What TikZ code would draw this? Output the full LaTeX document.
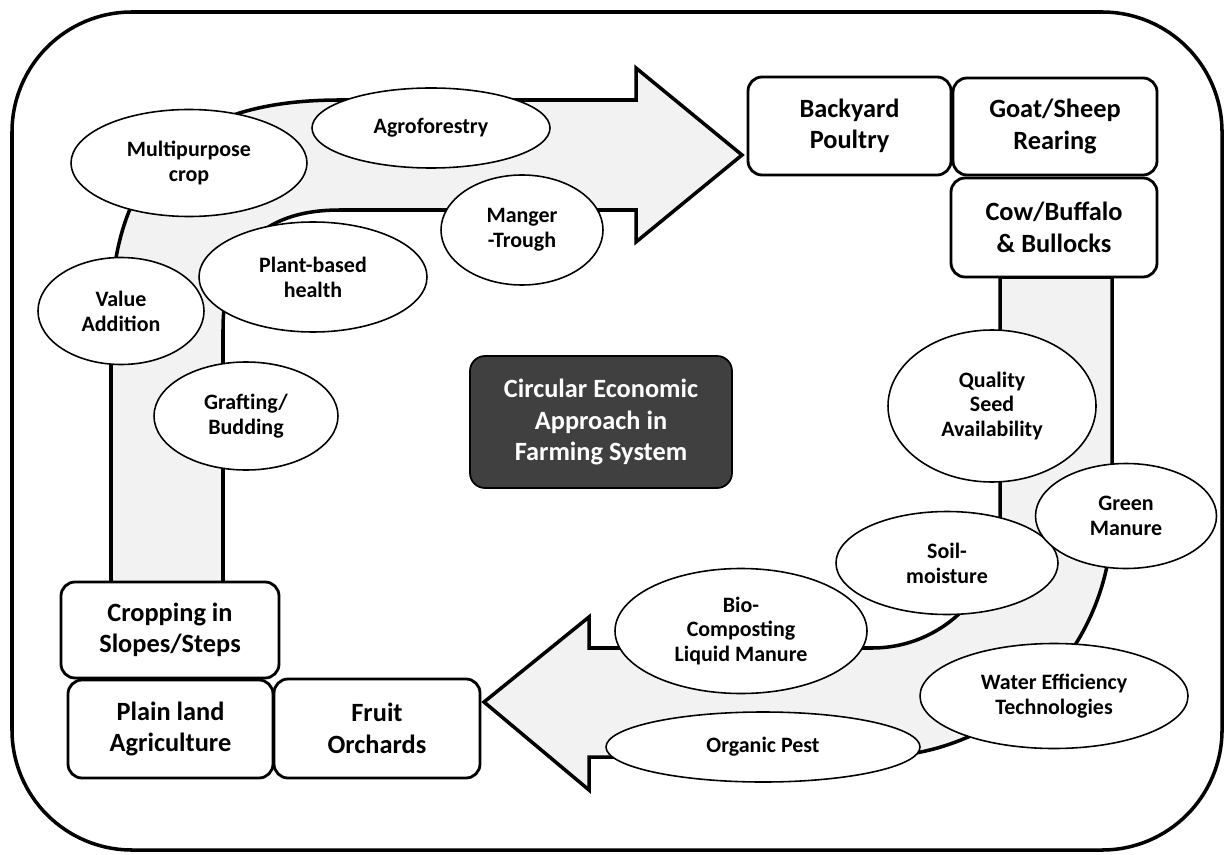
\documentclass[tikz,border=0pt]{standalone}
\usepackage{fontspec}
\setmainfont{Carlito}
\usetikzlibrary{shapes.geometric}

\begin{document}
\begin{tikzpicture}[
    stage/.style={
        rectangle, rounded corners=0.28cm, draw, line width=1.6pt,
        fill=white, inner sep=0pt, align=center,
        font=\fontsize{15}{18}\selectfont\bfseries
    },
    practice/.style={
        ellipse, draw, line width=0.9pt, fill=white, inner sep=0pt,
        align=center, font=\fontsize{12.5}{14.2}\selectfont\bfseries
    },
    hub/.style={
        rectangle, rounded corners=0.3cm, draw, line width=1pt,
        fill=black!75, text=white, inner sep=0pt, align=center,
        font=\fontsize{15}{18}\selectfont\bfseries
    },
    flow/.style={draw, line width=2pt, fill=black!5, line join=miter},
]
\useasboundingbox (0,0) rectangle (24.52,17.08);

% Outer frame
\draw[line width=2pt, rounded corners=2.4cm] (0.24,0.08) rectangle (24.44,16.84);

% Upper flow (left column up, then right to the livestock)
\draw[flow] (2.22,5.42) -- (2.22,10.68)
    .. controls (2.22,13.78) and (3.80,15.08) .. (6.80,15.08)
    -- (12.72,15.08) -- (12.72,15.72) -- (14.84,13.98) -- (12.72,12.24)
    -- (12.72,12.88) -- (6.80,12.88)
    .. controls (5.24,12.88) and (4.46,12.08) .. (4.46,10.48)
    -- (4.46,5.42) -- cycle;

% Lower flow (right column down, then left to the orchards)
\draw[flow] (20.00,11.54) -- (20.00,6.68)
    arc[start angle=0, end angle=-90, radius=2.56]
    -- (11.78,4.12) -- (11.78,4.74) -- (9.68,3.04) -- (11.78,1.28)
    -- (11.78,1.94) -- (17.44,1.94)
    arc[start angle=-90, end angle=0, radius=4.8]
    -- (22.24,11.54) -- cycle;

% Farming units
\node[stage, minimum width=4.06cm, minimum height=1.96cm] (poultry) at (16.99,14.56) {Backyard\\Poultry};
\node[stage, minimum width=4.08cm, minimum height=1.94cm] (goat)    at (21.10,14.55) {Goat/Sheep\\Rearing};
\node[stage, minimum width=4.12cm, minimum height=1.98cm] (cow)     at (21.08,12.53) {Cow/Buffalo\\\& Bullocks};
\node[stage, minimum width=4.36cm, minimum height=1.92cm] (slopes)  at (3.40,4.48)   {Cropping in\\Slopes/Steps};
\node[stage, minimum width=4.10cm, minimum height=1.96cm] (plain)   at (3.41,2.50)   {Plain land\\Agriculture};
\node[stage, minimum width=4.12cm, minimum height=1.98cm] (fruit)   at (7.54,2.51)   {Fruit\\Orchards};

% Centre
\node[hub, minimum width=5.24cm, minimum height=2.64cm] (centre) at (12.02,8.64)
    {Circular Economic\\Approach in\\Farming System};

% Practices on the upper flow
\node[practice, minimum width=4.72cm, minimum height=2.14cm] (multi)   at (3.78,13.82)  {Multipurpose\\crop};
\node[practice, minimum width=4.76cm, minimum height=1.60cm] (agro)    at (8.62,14.52)  {Agroforestry};
\node[practice, minimum width=3.24cm, minimum height=2.20cm] (manger)  at (10.44,12.48) {Manger\\-Trough};
\node[practice, minimum width=4.56cm, minimum height=2.20cm] (plant)   at (6.26,11.54)  {Plant-based\\health};
\node[practice, minimum width=3.32cm, minimum height=2.14cm] (value)   at (2.42,10.86)  {Value\\Addition};
\node[practice, minimum width=3.68cm, minimum height=2.16cm] (graft)   at (4.92,8.76)   {Grafting/\\Budding};

% Practices on the lower flow
\node[practice, minimum width=4.16cm, minimum height=3.04cm] (seed)    at (19.84,8.96)  {Quality\\Seed\\Availability};
\node[practice, minimum width=4.44cm, minimum height=2.06cm] (soil)    at (18.94,5.82)  {Soil-\\moisture};
\node[practice, minimum width=3.62cm, minimum height=2.10cm] (green)   at (22.52,6.76)  {Green\\Manure};
\node[practice, minimum width=5.04cm, minimum height=2.50cm] (bio)     at (14.82,4.46)  {Bio-\\Composting\\Liquid Manure};
\node[practice, minimum width=5.36cm, minimum height=2.10cm] (water)   at (21.08,3.16)  {Water Efficiency\\Technologies};
\node[practice, minimum width=6.28cm, minimum height=1.40cm] (pest)    at (15.26,2.14)  {Organic Pest};

\end{tikzpicture}
\end{document}
